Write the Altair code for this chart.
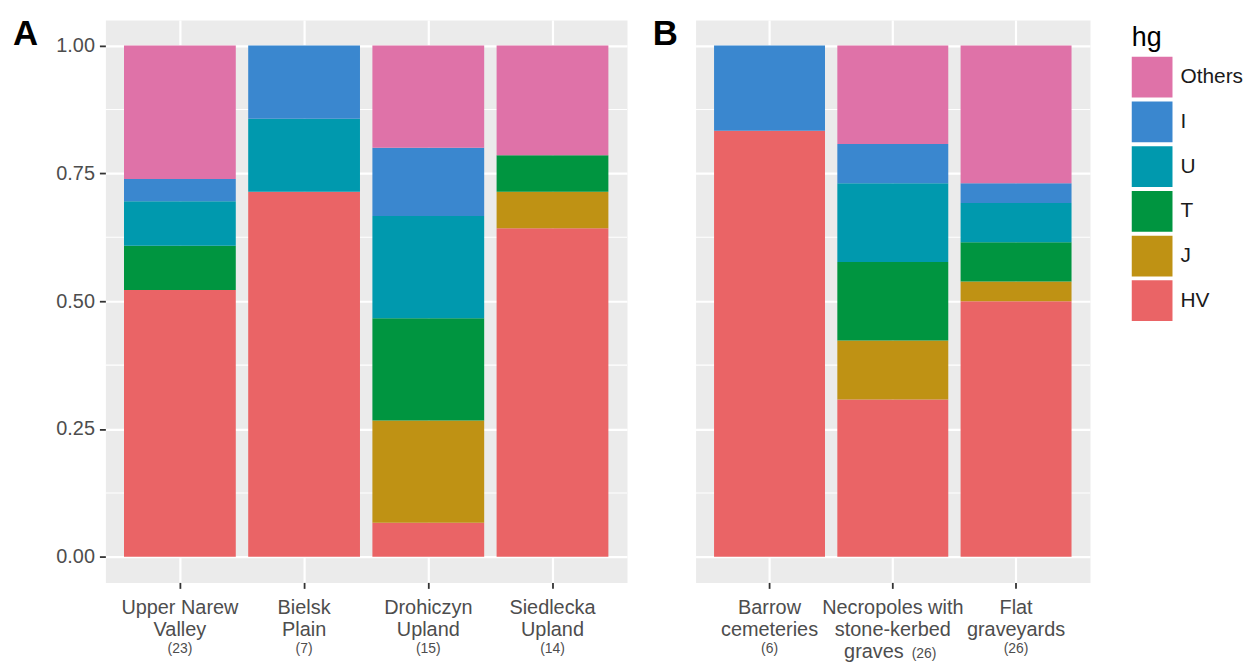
import altair as alt
import pandas as pd

# ---- data ----
groups_legend = ["Others", "I", "U", "T", "J", "HV"]           # legend order (top to bottom)
stack_order = ["HV", "J", "T", "U", "I", "Others"]              # bottom to top
colors = ["#DF72A8", "#3A87CF", "#0099AE", "#009540", "#BF9214", "#EA6466"]

labels_a = ["Upper Narew|Valley", "Bielsk|Plain", "Drohiczyn|Upland", "Siedlecka|Upland"]
n_a = [23, 7, 15, 14]
hv_a = [12, 5, 1, 9]
j_a = [0, 0, 3, 1]
t_a = [2, 0, 3, 1]
u_a = [2, 1, 3, 0]
i_a = [1, 1, 2, 0]
others_a = [6, 0, 3, 3]

labels_b = ["Barrow|cemeteries", "Necropoles with|stone-kerbed", "Flat|graveyards"]
extra_line_b = ["", "graves", ""]
n_b = [6, 26, 26]
hv_b = [5, 8, 13]
j_b = [0, 3, 1]
t_b = [0, 4, 2]
u_b = [0, 4, 2]
i_b = [1, 2, 1]
others_b = [0, 5, 7]

y_ticks = [0, 0.25, 0.5, 0.75, 1.0]
y_minor = [0.125, 0.375, 0.625, 0.875]

FONT = "Liberation Sans"
LABEL_COLOR = "#4D4D4D"
H = 566


def build_df(labels, series):
    rows = []
    for i, lab in enumerate(labels):
        for k, g in enumerate(stack_order):
            rows.append({"region": lab, "hg": g, "count": series[g][i], "ord": k})
    return pd.DataFrame(rows)


def panel(labels, series, ns, width, letter, letter_x, show_y, extra=None):
    df = build_df(labels, series)
    yscale = alt.Scale(domain=[-0.05, 1.05], nice=False, zero=False)
    xscale = alt.Scale(paddingInner=0.1, paddingOuter=0.15)
    xaxis = alt.Axis(
        labelExpr="split(datum.label, '|')", labelAngle=0, bandPosition=0.5,
        grid=True, gridColor="white", gridWidth=2.2,
        ticks=True, tickSize=6, tickColor="#333333", tickWidth=1.8,
        domain=False, labelFontSize=20, labelColor=LABEL_COLOR,
        labelLineHeight=22.5, labelPadding=9, labelFont=FONT,
    )
    if show_y:
        yaxis = alt.Axis(values=y_ticks, format=".2f", grid=True, gridColor="white",
                         gridWidth=2.2, ticks=True, tickSize=6, tickColor="#333333",
                         tickWidth=1.8, domain=False, labelFontSize=20,
                         labelColor=LABEL_COLOR, labelPadding=5, labelFont=FONT)
    else:
        yaxis = alt.Axis(values=y_ticks, grid=True, gridColor="white", gridWidth=2.2,
                         ticks=False, labels=False, domain=False)

    minor = alt.Chart(pd.DataFrame({"v": y_minor})).mark_rule(
        color="white", strokeWidth=1.1
    ).encode(y=alt.Y("v:Q", scale=yscale, axis=yaxis, title=None))

    bars = alt.Chart(df).mark_bar().encode(
        x=alt.X("region:N", sort=labels, title=None, scale=xscale, axis=xaxis),
        y=alt.Y("count:Q", stack="normalize", scale=yscale, axis=yaxis, title=None),
        color=alt.Color(
            "hg:N",
            scale=alt.Scale(domain=groups_legend, range=colors),
            legend=alt.Legend(
                title="hg", titleFontSize=27, titleColor="black", titleFontWeight="normal",
                titleFont=FONT, labelFont=FONT, labelFontSize=21, labelColor="#1A1A1A",
                symbolType="square", symbolSize=1681, symbolStrokeWidth=0,
                rowPadding=4, labelOffset=8, offset=35, padding=5, titlePadding=5,
                orient="right",
            ),
        ),
        order=alt.Order("ord:Q", sort="ascending"),
    )

    layers = [minor, bars]
    cnt = pd.DataFrame({"region": labels, "lbl": ["(%d)" % n for n in ns],
                        "extra": extra if extra else [""] * len(labels)})
    normal = cnt[cnt["extra"] == ""]
    special = cnt[cnt["extra"] != ""]
    layers.append(
        alt.Chart(normal).mark_text(fontSize=14, color=LABEL_COLOR, font=FONT,
                                    baseline="alphabetic").encode(
            x=alt.X("region:N", sort=labels), y=alt.value(H + 71), text="lbl:N")
    )
    if len(special):
        layers.append(
            alt.Chart(special).mark_text(fontSize=20, color=LABEL_COLOR, font=FONT,
                                         baseline="alphabetic", align="left", dx=-49).encode(
                x=alt.X("region:N", sort=labels), y=alt.value(H + 76), text="extra:N")
        )
        layers.append(
            alt.Chart(special).mark_text(fontSize=14, color=LABEL_COLOR, font=FONT,
                                         baseline="alphabetic", align="left", dx=19).encode(
                x=alt.X("region:N", sort=labels), y=alt.value(H + 76), text="lbl:N")
        )
    layers.append(
        alt.Chart(pd.DataFrame({"t": [letter]})).mark_text(
            fontSize=35, fontWeight="bold", font=FONT, color="black",
            align="left", baseline="alphabetic").encode(
            x=alt.value(letter_x), y=alt.value(25), text="t:N")
    )
    return alt.layer(*layers).properties(width=width, height=H)


series_a = {"HV": hv_a, "J": j_a, "T": t_a, "U": u_a, "I": i_a, "Others": others_a}
series_b = {"HV": hv_b, "J": j_b, "T": t_b, "U": u_b, "I": i_b, "Others": others_b}

pa = panel(labels_a, series_a, n_a, 525, "A", -93, True)
pb = panel(labels_b, series_b, n_b, 397, "B", -43, False, extra=extra_line_b)

chart = alt.hconcat(pa, pb, spacing=23).properties(
    padding={"top": 6, "left": 4, "right": 0, "bottom": 0}
).configure(
    font=FONT,
    view=alt.ViewConfig(fill="#EBEBEB", stroke="transparent"),
)

chart.save("out.html", embed_options={"renderer": "svg", "actions": False})
